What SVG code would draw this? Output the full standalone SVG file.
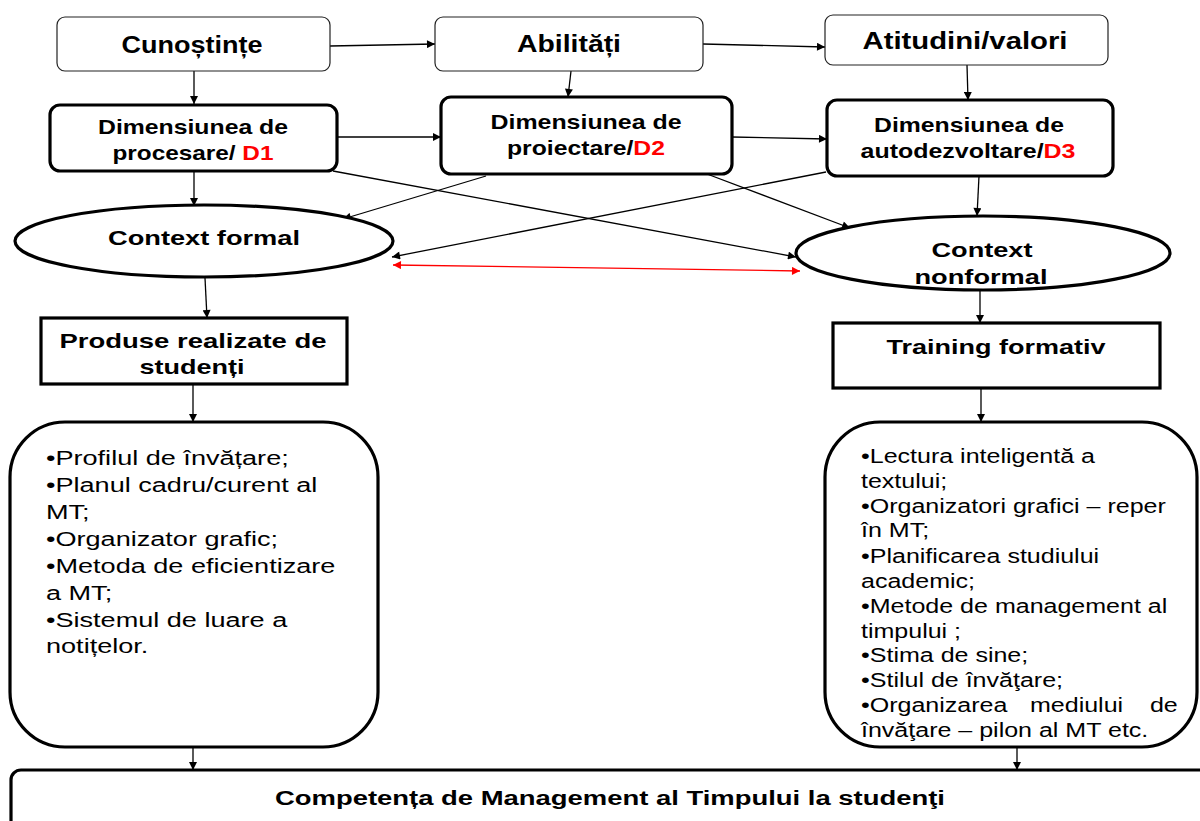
<svg xmlns="http://www.w3.org/2000/svg" width="1200" height="821" viewBox="0 0 1200 821">
<defs>
<style>
.thin{fill:#fff;stroke:#222;stroke-width:1.2}
.thick{fill:#fff;stroke:#000;stroke-width:3.2}
.t{font-family:"Liberation Sans",Arial,sans-serif;font-weight:bold;fill:#000;text-anchor:middle}
.l{font-family:"Liberation Sans",Arial,sans-serif;fill:#000}
.red{fill:#ff0000}
.c{stroke:#000;stroke-width:1.3;fill:none;marker-end:url(#ah)}
</style>
<marker id="ah" viewBox="0 0 10 10" refX="10" refY="5" markerWidth="10" markerHeight="8" markerUnits="userSpaceOnUse" orient="auto"><path d="M0,0 L10,5 L0,10 z" fill="#000"/></marker>
<marker id="rh" viewBox="0 0 10 10" refX="10" refY="5" markerWidth="10" markerHeight="8" markerUnits="userSpaceOnUse" orient="auto-start-reverse"><path d="M0,0 L10,5 L0,10 z" fill="#ff0000"/></marker>
</defs>
<rect width="1200" height="821" fill="#fff"/>

<g id="connectors">
<line class="c" x1="330" y1="46" x2="435" y2="44"/>
<line class="c" x1="703" y1="44" x2="825" y2="47"/>
<line class="c" x1="194" y1="71" x2="194" y2="104"/>
<line class="c" x1="571" y1="71" x2="568" y2="97"/>
<line class="c" x1="967" y1="65" x2="968" y2="100"/>
<line class="c" x1="338" y1="137" x2="441" y2="137"/>
<line class="c" x1="732" y1="137" x2="827" y2="139"/>
<line class="c" x1="194" y1="171" x2="194" y2="206"/>
<line class="c" x1="486" y1="176" x2="343" y2="219"/>
<line class="c" x1="826" y1="172" x2="392" y2="257"/>
<line class="c" x1="333" y1="171" x2="796" y2="257"/>
<line class="c" x1="707" y1="174" x2="850" y2="228"/>
<line class="c" x1="979" y1="176" x2="977" y2="216"/>
<line x1="393" y1="265" x2="800" y2="271" stroke="#ff0000" stroke-width="1.3" marker-start="url(#rh)" marker-end="url(#rh)"/>
<line class="c" x1="205" y1="278" x2="207" y2="318"/>
<line class="c" x1="980" y1="291" x2="980" y2="323"/>
<line class="c" x1="193" y1="385" x2="193" y2="422"/>
<line class="c" x1="981" y1="387" x2="981" y2="422"/>
<line class="c" x1="193" y1="747" x2="193" y2="770"/>
<line class="c" x1="1017" y1="746" x2="1017" y2="770"/>
</g>

<g id="cunostinte">
<rect class="thin" x="57" y="17" width="273" height="54" rx="8"/>
<text class="t" x="192" y="53" font-size="23" textLength="141" lengthAdjust="spacingAndGlyphs">Cunoștințe</text>
</g>
<g id="abilitati">
<rect class="thin" x="435" y="17" width="268" height="54" rx="8"/>
<text class="t" x="569" y="52" font-size="23" textLength="104" lengthAdjust="spacingAndGlyphs">Abilități</text>
</g>
<g id="atitudini">
<rect class="thin" x="825" y="15" width="283" height="50" rx="8"/>
<text class="t" x="965" y="49" font-size="23" textLength="205" lengthAdjust="spacingAndGlyphs">Atitudini/valori</text>
</g>

<g id="d1">
<rect class="thick" x="50" y="105" width="287" height="66" rx="10"/>
<text class="t" x="193" y="134" font-size="21" textLength="190" lengthAdjust="spacingAndGlyphs">Dimensiunea de</text>
<text class="t" x="193" y="160" font-size="21" textLength="161" lengthAdjust="spacingAndGlyphs">procesare/ <tspan class="red">D1</tspan></text>
</g>
<g id="d2">
<rect class="thick" x="441" y="97" width="291" height="77" rx="10"/>
<text class="t" x="586" y="129" font-size="21" textLength="191" lengthAdjust="spacingAndGlyphs">Dimensiunea de</text>
<text class="t" x="586" y="155" font-size="21" textLength="158" lengthAdjust="spacingAndGlyphs">proiectare/<tspan class="red">D2</tspan></text>
</g>
<g id="d3">
<rect class="thick" x="827" y="100" width="286" height="76" rx="10"/>
<text class="t" x="969" y="132" font-size="21" textLength="190" lengthAdjust="spacingAndGlyphs">Dimensiunea de</text>
<text class="t" x="968" y="158" font-size="21" textLength="215" lengthAdjust="spacingAndGlyphs">autodezvoltare/<tspan class="red">D3</tspan></text>
</g>

<g id="context-formal">
<ellipse class="thick" cx="204" cy="241" rx="189" ry="36"/>
<text class="t" x="204" y="245" font-size="21" textLength="192" lengthAdjust="spacingAndGlyphs">Context formal</text>
</g>
<g id="context-nonformal">
<ellipse class="thick" cx="983" cy="253" rx="187" ry="37"/>
<text class="t" x="982" y="257" font-size="21" textLength="101" lengthAdjust="spacingAndGlyphs">Context</text>
<text class="t" x="981" y="284" font-size="21" textLength="133" lengthAdjust="spacingAndGlyphs">nonformal</text>
</g>

<g id="produse">
<rect class="thick" x="41" y="318" width="306" height="66" fill="#fff"/>
<text class="t" x="193" y="348" font-size="21" textLength="267" lengthAdjust="spacingAndGlyphs">Produse realizate de</text>
<text class="t" x="192" y="374" font-size="21" textLength="105" lengthAdjust="spacingAndGlyphs">studenți</text>
</g>
<g id="training">
<rect class="thick" x="833" y="323" width="327" height="65"/>
<text class="t" x="996" y="354" font-size="21" textLength="219" lengthAdjust="spacingAndGlyphs">Training formativ</text>
</g>

<g id="lista-stanga">
<rect class="thick" x="10" y="422" width="368" height="325" rx="55"/>
<g transform="translate(46,0) scale(1.29,1)" class="l" font-size="21">
<text x="0" y="465">•Profilul de învățare;</text>
<text x="0" y="492">•Planul cadru/curent al</text>
<text x="0" y="519">MT;</text>
<text x="0" y="546">•Organizator grafic;</text>
<text x="0" y="573">•Metoda de eficientizare</text>
<text x="0" y="600">a MT;</text>
<text x="0" y="627">•Sistemul de luare a</text>
<text x="0" y="653">notițelor.</text>
</g>
</g>

<g id="lista-dreapta">
<rect class="thick" x="825" y="422" width="372" height="325" rx="55"/>
<g transform="translate(861,0) scale(1.29,1)" class="l" font-size="19.4">
<text x="0" y="463">•Lectura inteligentă a</text>
<text x="0" y="488">textului;</text>
<text x="0" y="513">•Organizatori grafici – reper</text>
<text x="0" y="537">în MT;</text>
<text x="0" y="563">•Planificarea studiului</text>
<text x="0" y="588">academic;</text>
<text x="0" y="613">•Metode de management al</text>
<text x="0" y="638">timpului ;</text>
<text x="0" y="662">•Stima de sine;</text>
<text x="0" y="687">•Stilul de învăţare;</text>
<text x="0" y="712">•Organizarea<tspan x="131">mediului</tspan><tspan x="224">de</tspan></text>
<text x="0" y="737">învăţare – pilon al MT etc.</text>
</g>
</g>

<g id="competenta">
<rect class="thick" x="11" y="770" width="1210" height="70" rx="10"/>
<text class="t" x="610" y="805" font-size="20" textLength="670" lengthAdjust="spacingAndGlyphs">Competența de Management al Timpului la studenţi</text>
</g>
</svg>
